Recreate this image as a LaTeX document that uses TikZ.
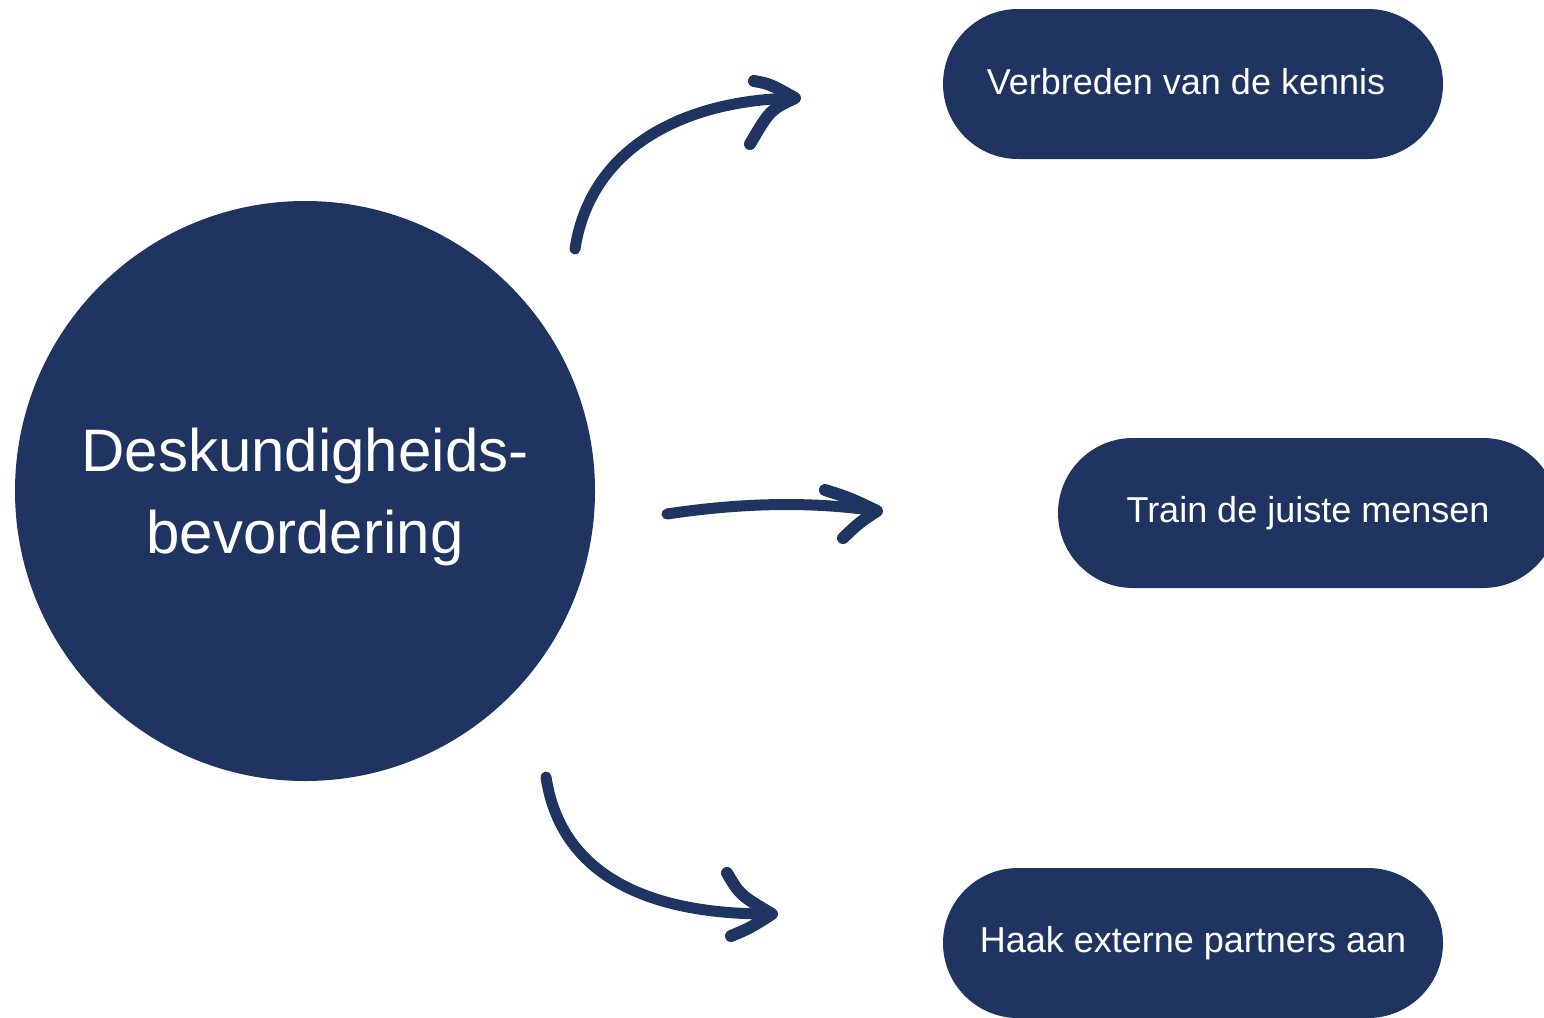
\documentclass[tikz,border=0pt]{standalone}
\usepackage{fontspec}
\setmainfont{Liberation Sans}
\definecolor{navy}{RGB}{31,52,97}
\begin{document}
\begin{tikzpicture}[x=1pt,y=-1pt,
  pill/.style={fill=navy, rounded corners=75pt, minimum width=500pt, minimum height=150pt, inner sep=0pt, text=white, font=\fontsize{36}{43}\selectfont},
  hand/.style={draw=navy, line width=11pt, line cap=round, line join=round},
  barb/.style={draw=navy, line width=12pt, line cap=round, line join=round}]
\useasboundingbox (0,0) rectangle (1544,1017);
\clip (0,0) rectangle (1544,1017);
\fill[white] (0,0) rectangle (1544,1017);
\node[circle, fill=navy, minimum size=580pt, inner sep=0pt] (hub) at (305,491) {};
\node[text=white, align=center, inner sep=0pt, font=\fontsize{60}{82}\selectfont] (hubtext) at (305,497) {Deskundigheids-\\bevordering};
\node[pill] (p1) at (1193,84) {\hspace*{-14pt}\raisebox{5pt}{Verbreden van de kennis}};
\node[pill] (p2) at (1308,513) {\raisebox{3pt}{Train de juiste mensen}};
\node[pill] (p3) at (1193,943) {\raisebox{3pt}{Haak externe partners aan}};
% arrow 1
\coordinate (a1s) at (575,249);
\coordinate (a1e) at (795,98);
\coordinate (a1u) at (754,81);
\coordinate (a1l) at (750,144);
\draw[hand] (a1s) .. controls (590,150) and (680,100) .. (a1e);
\draw[barb] (a1u) .. controls (770,84) .. (a1e) .. controls (770,110) .. (a1l);
% arrow 2
\coordinate (a2s) at (667,514);
\coordinate (a2e) at (877,511);
\coordinate (a2u) at (825,490);
\coordinate (a2l) at (843,538);
\draw[hand] (a2s) .. controls (740,503) and (810,501) .. (a2e);
\draw[barb] (a2u) .. controls (850,498) .. (a2e) .. controls (860,522) .. (a2l);
% arrow 3
\coordinate (a3s) at (546,777);
\coordinate (a3e) at (772,914);
\coordinate (a3u) at (727,873);
\coordinate (a3l) at (731,936);
\draw[hand] (a3s) .. controls (560,870) and (640,915) .. (a3e);
\draw[barb] (a3u) .. controls (740,895) .. (a3e) .. controls (750,928) .. (a3l);
\end{tikzpicture}
\end{document}
